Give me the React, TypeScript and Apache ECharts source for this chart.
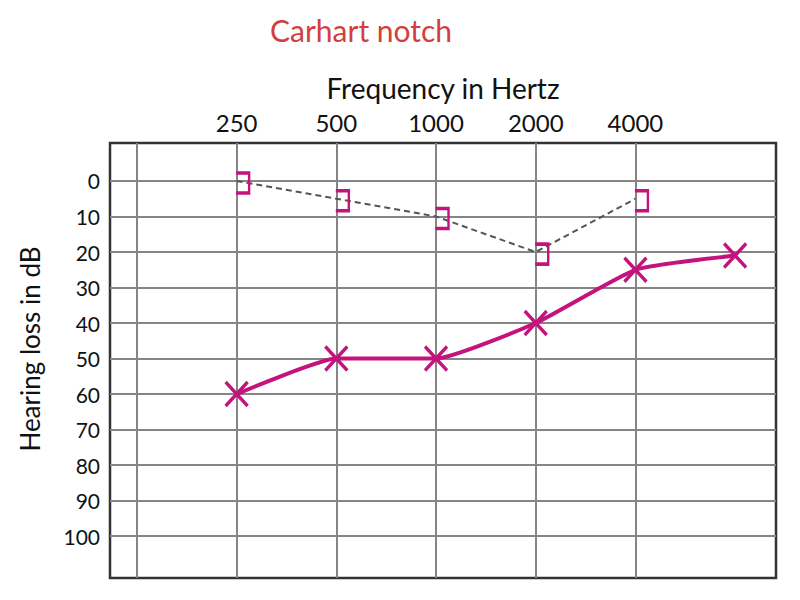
import React, { useEffect, useRef } from 'react';
import * as echarts from 'echarts';

// Data
const tickFrequencies = [250, 500, 1000, 2000, 4000];
const gridFrequencies = [125, 250, 500, 1000, 2000, 4000];
const dbTicks = [0, 10, 20, 30, 40, 50, 60, 70, 80, 90, 100];
const airFrequencies = [250, 500, 1000, 2000, 4000, 8000];
const airLoss = [60, 50, 50, 40, 25, 21];
const boneFrequencies = [250, 500, 1000, 2000, 4000];
const boneLoss = [0, 5, 10, 20, 5];

const BASE_FREQ = 125;
const octave = (f: number) => Math.log2(f / BASE_FREQ);

const MAGENTA = '#c4137d';
const FONT = 'Lato';

export default function App() {
  const ref = useRef<HTMLDivElement>(null);

  useEffect(() => {
    if (!ref.current) return;
    const chart = echarts.init(ref.current, undefined, { renderer: 'svg' });

    const option: any = {
      animation: false,
      backgroundColor: '#ffffff',
      grid: {
        left: 110,
        top: 143,
        right: 24,
        bottom: 22,
        show: true,
        borderColor: '#333',
        borderWidth: 2.5,
        backgroundColor: 'transparent',
      },
      graphic: [
        {
          type: 'text',
          x: 361,
          y: 30,
          style: {
            text: 'Carhart notch',
            fill: '#d23f3f',
            font: `30px ${FONT}`,
            align: 'center',
            verticalAlign: 'middle',
          },
        },
        {
          type: 'text',
          x: 443,
          y: 88,
          style: {
            text: 'Frequency in Hertz',
            fill: '#111',
            font: `28px ${FONT}`,
            align: 'center',
            verticalAlign: 'middle',
          },
        },
        {
          type: 'text',
          x: 30,
          y: 349,
          rotation: Math.PI / 2,
          style: {
            text: 'Hearing loss in dB',
            fill: '#111',
            font: `26px ${FONT}`,
            align: 'center',
            verticalAlign: 'middle',
          },
        },
      ],
      xAxis: {
        type: 'value',
        position: 'top',
        min: -0.27,
        max: 6.41,
        axisLine: { show: false },
        axisTick: { show: false, customValues: gridFrequencies.map(octave) },
        axisLabel: {
          customValues: tickFrequencies.map(octave),
          formatter: (v: number) => String(Math.round(BASE_FREQ * Math.pow(2, v))),
          fontFamily: FONT,
          fontSize: 24,
          color: '#111',
          margin: 9,
        },
        splitLine: { show: true, lineStyle: { color: '#858585', width: 2 } },
      },
      yAxis: {
        type: 'value',
        inverse: true,
        min: -10.7,
        max: 111.8,
        axisLine: { show: false },
        axisTick: { show: false, customValues: dbTicks },
        axisLabel: {
          customValues: dbTicks,
          fontFamily: FONT,
          fontSize: 21,
          color: '#111',
          margin: 10,
        },
        splitLine: { show: true, lineStyle: { color: '#858585', width: 2 } },
      },
      series: [
        {
          type: 'line',
          name: 'Bone conduction',
          data: boneFrequencies.map((f, i) => [octave(f), boneLoss[i]]),
          symbol: 'path://M0,0 L10,0 L10,14 L0,14',
          symbolSize: [13, 20],
          symbolOffset: [6, 2],
          itemStyle: { color: 'rgba(0,0,0,0)', borderColor: MAGENTA, borderWidth: 3 },
          lineStyle: { color: '#555', width: 2, type: [6, 4] },
          z: 3,
        },
        {
          type: 'line',
          name: 'Air conduction',
          data: airFrequencies.map((f, i) => [octave(f), airLoss[i]]),
          smooth: 0.15,
          symbol: 'path://M0,0 L20,20 M20,0 L0,20',
          symbolSize: [22, 24],
          itemStyle: { color: 'rgba(0,0,0,0)', borderColor: MAGENTA, borderWidth: 3.5 },
          lineStyle: { color: MAGENTA, width: 4 },
          z: 4,
        },
      ],
    };

    chart.setOption(option);
    return () => chart.dispose();
  }, []);

  return (
    <div
      ref={ref}
      style={{ position: 'fixed', left: 0, top: 0, width: 800, height: 600 }}
    />
  );
}
